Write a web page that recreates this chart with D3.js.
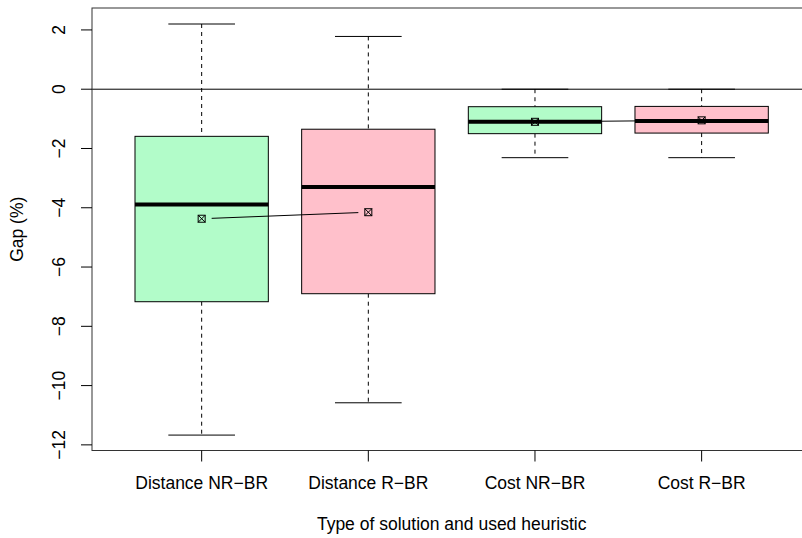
<!DOCTYPE html>
<html>
<head>
<meta charset="utf-8">
<script src="https://cdn.jsdelivr.net/npm/d3@7"></script>
<style>
  html, body { margin: 0; padding: 0; background: #fff; }
  text { font-family: "Liberation Sans", Arial, sans-serif; fill: #000; }
</style>
</head>
<body>
<svg id="chart" width="802" height="538"></svg>
<script>
// ---- data ----
const categories = ["Distance NR−BR", "Distance R−BR", "Cost NR−BR", "Cost R−BR"];
const whiskerLow  = [-11.67, -10.58, -2.31, -2.31];
const q1          = [-7.17,  -6.90,  -1.50, -1.48];
const median      = [-3.89,  -3.30,  -1.10, -1.07];
const q3          = [-1.59,  -1.35,  -0.59, -0.58];
const whiskerHigh = [2.20,    1.78,   0.00,  0.00];
const means       = [-4.37,  -4.15,  -1.10, -1.05];
const meanPairs   = [[0, 1], [2, 3]];
const fills       = ["#b2fcc9", "#ffc0cb", "#b2fcc9", "#ffc0cb"];
const yTicks      = [2, 0, -2, -4, -6, -8, -10, -12];
const yLabel = "Gap (%)";
const xLabel = "Type of solution and used heuristic";

// ---- layout ----
const svg = d3.select("#chart");
const plot = { left: 92, right: 811.3, top: 8, bottom: 450.5 };

const x = d3.scalePoint().domain(categories).range([plot.left, plot.right]).padding(0.658);
const y = d3.scaleLinear().domain([-12.19, 2.74]).range([plot.bottom, plot.top]);
const step = x.step();
const boxW = step * 0.8;
const capW = boxW * 0.5;

const data = categories.map((c, i) => ({
  c, lo: whiskerLow[i], q1: q1[i], med: median[i], q3: q3[i], hi: whiskerHigh[i], mean: means[i], fill: fills[i]
}));

// whiskers (dashed)
const g = svg.append("g");
data.forEach(d => {
  const cx = x(d.c);
  g.append("line").attr("x1", cx).attr("x2", cx).attr("y1", y(d.hi)).attr("y2", y(d.q3))
    .attr("stroke", "#000").attr("stroke-width", 1).attr("stroke-dasharray", "4,4");
  g.append("line").attr("x1", cx).attr("x2", cx).attr("y1", y(d.q1)).attr("y2", y(d.lo))
    .attr("stroke", "#000").attr("stroke-width", 1).attr("stroke-dasharray", "4,4");
  g.append("line").attr("x1", cx - capW / 2).attr("x2", cx + capW / 2).attr("y1", y(d.hi)).attr("y2", y(d.hi))
    .attr("stroke", "#000").attr("stroke-width", 1);
  g.append("line").attr("x1", cx - capW / 2).attr("x2", cx + capW / 2).attr("y1", y(d.lo)).attr("y2", y(d.lo))
    .attr("stroke", "#000").attr("stroke-width", 1);
  g.append("rect").attr("x", cx - boxW / 2).attr("width", boxW)
    .attr("y", y(d.q3)).attr("height", y(d.q1) - y(d.q3))
    .attr("fill", d.fill).attr("stroke", "#000").attr("stroke-width", 1);
  g.append("line").attr("x1", cx - boxW / 2).attr("x2", cx + boxW / 2).attr("y1", y(d.med)).attr("y2", y(d.med))
    .attr("stroke", "#000").attr("stroke-width", 4);
});

// horizontal reference line at 0
svg.append("line").attr("x1", plot.left).attr("x2", plot.right).attr("y1", y(0)).attr("y2", y(0))
  .attr("stroke", "#000").attr("stroke-width", 1);

// mean lines (type "b": gaps around points)
const gap = 10;
meanPairs.forEach(([a, b]) => {
  const x1 = x(categories[a]), y1 = y(means[a]), x2 = x(categories[b]), y2 = y(means[b]);
  const len = Math.hypot(x2 - x1, y2 - y1), ux = (x2 - x1) / len, uy = (y2 - y1) / len;
  svg.append("line").attr("x1", x1 + ux * gap).attr("y1", y1 + uy * gap)
    .attr("x2", x2 - ux * gap).attr("y2", y2 - uy * gap)
    .attr("stroke", "#000").attr("stroke-width", 1);
});

// mean markers (square with X)
const ms = 7;
data.forEach(d => {
  const cx = x(d.c), cy = y(d.mean);
  const m = svg.append("g").attr("transform", `translate(${cx},${cy})`);
  m.append("rect").attr("x", -ms / 2).attr("y", -ms / 2).attr("width", ms).attr("height", ms)
    .attr("fill", "none").attr("stroke", "#000").attr("stroke-width", 1);
  m.append("path").attr("d", `M${-ms/2},${-ms/2}L${ms/2},${ms/2}M${-ms/2},${ms/2}L${ms/2},${-ms/2}`)
    .attr("stroke", "#000").attr("stroke-width", 1);
});

// frame
svg.append("rect").attr("x", plot.left).attr("y", plot.top)
  .attr("width", plot.right - plot.left).attr("height", plot.bottom - plot.top)
  .attr("fill", "none").attr("stroke", "#333").attr("stroke-width", 1);

// y axis
const yAxis = svg.append("g");
yTicks.forEach(t => {
  yAxis.append("line").attr("x1", plot.left - 11).attr("x2", plot.left).attr("y1", y(t)).attr("y2", y(t))
    .attr("stroke", "#000").attr("stroke-width", 1);
  yAxis.append("text").attr("transform", `translate(65,${y(t)}) rotate(-90)`)
    .attr("text-anchor", "middle").attr("font-size", "17.5px").text(d3.format("d")(t));
});

// x axis
const xAxis = svg.append("g");
categories.forEach(c => {
  xAxis.append("line").attr("x1", x(c)).attr("x2", x(c)).attr("y1", plot.bottom).attr("y2", plot.bottom + 11)
    .attr("stroke", "#000").attr("stroke-width", 1);
  xAxis.append("text").attr("x", x(c)).attr("y", 489).attr("text-anchor", "middle")
    .attr("font-size", "17.5px").text(c);
});

// axis titles
svg.append("text").attr("x", (plot.left + plot.right) / 2).attr("y", 530).attr("text-anchor", "middle")
  .attr("font-size", "17.5px").text(xLabel);
svg.append("text").attr("transform", `translate(23,${(plot.top + plot.bottom) / 2}) rotate(-90)`)
  .attr("text-anchor", "middle").attr("font-size", "17.5px").text(yLabel);
</script>
</body>
</html>
